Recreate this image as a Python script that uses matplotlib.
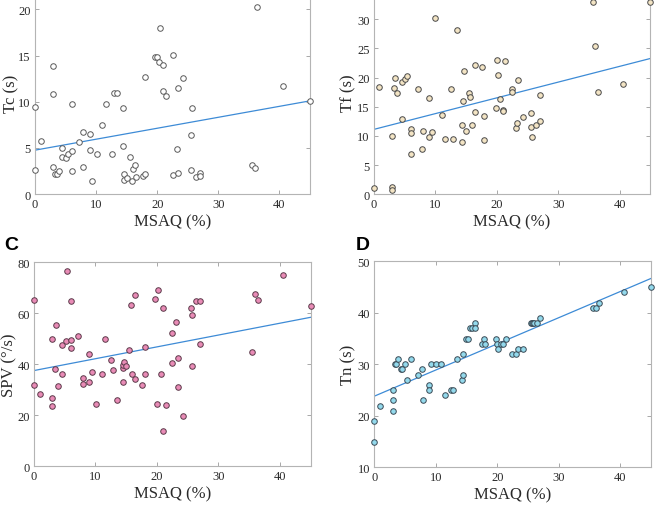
import numpy as np
import matplotlib
matplotlib.use("Agg")
import matplotlib.pyplot as plt

# ---- data ----
tc_x = [0, 0, 1.0, 3.0, 3.0, 3.0, 3.3, 3.6, 3.9, 4.5, 4.5, 5.1, 5.4, 6.0, 6.0, 6.0, 7.2, 7.9, 7.9,
        9.0, 9.0, 9.4, 10.1, 11.0, 11.6, 12.6, 12.9, 13.5, 14.4, 14.4, 14.5, 14.6, 15.0, 15.5, 15.8,
        16.0, 16.4, 16.5, 17.6, 18.0, 18.0, 19.7, 20.0, 20.3, 20.5, 21.0, 21.0, 21.4, 22.5, 22.5,
        23.2, 23.4, 23.4, 24.2, 25.6, 25.7, 25.6, 26.4, 27.0, 27.0, 35.5, 36.0, 36.4, 40.5, 45.0]
tc_y = [9.44, 2.6, 5.77, 13.84, 10.81, 2.88, 2.16, 2.16, 2.49, 4.97, 3.96, 3.89, 4.32, 4.68, 2.49,
        9.73, 5.66, 6.67, 2.88, 6.45, 4.76, 1.37, 4.32, 7.5, 9.73, 4.32, 10.92, 10.92, 9.33, 5.23,
        2.13, 1.55, 1.73, 4.04, 1.41, 2.74, 3.1, 1.87, 1.91, 2.13, 12.65, 14.88, 14.88, 14.34, 17.95,
        13.95, 11.21, 10.63, 15.03, 2.02, 4.83, 11.53, 2.23, 12.61, 6.38, 9.33, 2.56, 1.8, 2.23, 1.98,
        3.17, 2.81, 20.29, 11.75, 10.09]

tf_x = [0, 0.9, 3.0, 3.0, 3.0, 3.3, 3.5, 3.8, 4.5, 4.6, 5.0, 5.3, 6.0, 6.0, 6.0, 7.2, 7.9, 8.0,
        9.0, 9.0, 9.4, 10.0, 11.0, 11.6, 12.6, 12.8, 13.5, 14.4, 14.4, 14.5, 14.6, 15.0, 15.4, 15.7,
        16.0, 16.4, 16.4, 17.6, 18.0, 18.0, 19.8, 20.0, 20.2, 20.6, 21.0, 21.0, 21.4, 22.5, 22.5,
        23.1, 23.3, 23.4, 24.2, 25.5, 25.6, 25.7, 26.4, 27.0, 27.0, 35.6, 36.0, 36.5, 40.6, 45.0]
tf_y = [1.08, 18.43, 9.93, 1.31, 0.74, 18.14, 19.91, 17.28, 19.22, 12.84, 19.74, 20.19, 11.12,
        10.55, 6.9, 18.08, 7.7, 10.78, 16.43, 9.81, 10.61, 30.18, 13.58, 9.53, 18.03, 9.41, 28.07,
        11.92, 9.01, 16.03, 21.05, 10.9, 17.28, 16.6, 11.92, 22.08, 14.03, 21.73, 13.46, 9.3, 14.77,
        22.99, 20.48, 16.26, 14.38, 14.26, 22.82, 17.97, 17.46, 11.35, 12.26, 19.51, 13.23, 13.86,
        11.52, 9.81, 11.81, 16.94, 12.55, 32.97, 25.33, 17.51, 18.88, 32.97]

spv_x = [0, 0, 1.0, 3.0, 3.0, 3.0, 3.4, 3.6, 3.9, 4.5, 4.6, 5.2, 5.4, 6.0, 6.0, 6.0, 7.2, 7.9, 8.0,
         9.0, 9.0, 9.4, 10.1, 11.1, 11.6, 12.6, 12.85, 13.5, 14.4, 14.4, 14.5, 14.6, 15.0, 15.5,
         15.8, 16.0, 16.5, 16.5, 17.6, 18.0, 18.0, 19.7, 20.0, 20.2, 20.6, 21.0, 21.0, 21.4, 22.45,
         22.45, 23.1, 23.4, 23.4, 24.2, 25.5, 25.65, 25.7, 26.4, 27.0, 27.0, 35.5, 36.0, 36.4, 40.5, 45.0]
spv_y = [65.2, 31.9, 28.5, 49.9, 26.9, 23.8, 38.0, 55.4, 31.4, 47.7, 36.2, 49.0, 76.5, 64.8, 49.4,
         46.3, 51.2, 34.8, 32.2, 44.1, 33.2, 37.1, 24.6, 36.3, 50.1, 41.8, 37.6, 26.1, 38.7, 32.9,
         39.9, 40.9, 39.5, 45.5, 63.4, 36.3, 34.1, 67.2, 32.0, 46.8, 36.3, 65.5, 24.4, 69.2, 36.3,
         13.9, 62.1, 24.2, 52.3, 40.7, 56.5, 42.5, 31.0, 19.6, 62.0, 59.2, 39.2, 64.7, 64.7, 47.8,
         44.7, 67.6, 65.1, 75.2, 63.0]

tn_x = [0, 0, 1.0, 3.0, 3.0, 3.0, 3.3, 3.5, 3.8, 4.4, 4.55, 5.0, 5.3, 5.9, 7.1, 7.8, 7.9, 8.9, 8.9,
        9.3, 10.0, 10.9, 11.5, 12.5, 12.8, 13.4, 14.3, 14.4, 14.5, 14.9, 15.3, 15.6, 15.9, 16.4, 16.4,
        17.5, 17.9, 17.95, 19.8, 20.0, 20.2, 20.55, 20.9, 21.4, 22.4, 23.1, 23.4, 24.2, 25.5, 25.6,
        25.75, 25.9, 26.4, 27.0, 35.5, 36.1, 36.5, 40.6, 45.0]
tn_y = [19, 15, 22, 25, 23, 21, 30, 30, 31, 29, 29, 30, 27, 31, 28, 29, 23, 26, 25, 30, 30, 30, 24,
        25, 25, 31, 27, 28, 32, 35, 35, 37, 37, 38, 37, 34, 35, 34, 35, 34, 33, 34, 34, 35, 32, 32,
        33, 33, 38, 38, 38, 38, 38, 39, 41, 41, 42, 44, 45]

panels = [
    # x, y, ylabel, ylim, yticks, face, edge, axes rect (l, b, w, h), ylabel x
    (tc_x, tc_y, "Tc (s)", (0, 22), [0, 5, 10, 15, 20], "white", "#5a5a5a",
     [0.0523, 0.6146, 0.4111, 0.4013], -0.056),
    (tf_x, tf_y, "Tf (s)", (0, 35), [0, 5, 10, 15, 20, 25, 30], "#f3e4c4", "#4a4a4a",
     [0.559, 0.614, 0.413, 0.404], -0.065),
    (spv_x, spv_y, "SPV (°/s)", (0, 80), [0, 20, 40, 60, 80], "#e98bb6", "#5b3a4a",
     [0.0508, 0.0765, 0.4136, 0.4031], -0.059),
    (tn_x, tn_y, "Tn (s)", (10, 50), [10, 20, 30, 40, 50], "#93d9ec", "#3a4a55",
     [0.5595, 0.0745, 0.4135, 0.4071], -0.063),
]

plt.rcParams['font.family'] = ['Liberation Serif', 'DejaVu Serif']

fig = plt.figure(figsize=(6.69, 5.06), dpi=100)

for x, y, ylab, ylim, yt, fc, ec, rect, lx in panels:
    ax = fig.add_axes(rect)
    x = np.array(x); y = np.array(y)
    ax.scatter(x, y, s=16, facecolor=fc, edgecolor=ec, linewidths=0.7, zorder=3, clip_on=False)
    k, b = np.polyfit(x, y, 1)
    xx = np.array([0, 45])
    ax.plot(xx, k*xx + b, color="#3d8bd6", lw=0.9, zorder=2)
    ax.set_xlim(0, 45)
    ax.set_ylim(*ylim)
    ax.set_xticks([0, 10, 20, 30, 40])
    ax.set_yticks(yt)
    ax.tick_params(direction="in", length=3, width=0.6, color="#9a9a9a", top=True, right=True,
                   labelsize=9, labelcolor="#2a2a2a", pad=3)
    for s in ax.spines.values():
        s.set_color("#b4b4b4")
        s.set_linewidth(0.8)
    ax.set_xlabel("MSAQ (%)", fontsize=12, color="#2a2a2a", labelpad=2)
    ax.set_ylabel(ylab, fontsize=12, color="#2a2a2a")
    ax.yaxis.set_label_coords(lx, 0.5)

fig.text(0.007, 0.506, "C", fontsize=14, fontweight="bold", family="Liberation Sans")
fig.text(0.532, 0.506, "D", fontsize=14, fontweight="bold", family="Liberation Sans")

fig.savefig("out.png", dpi=100)
